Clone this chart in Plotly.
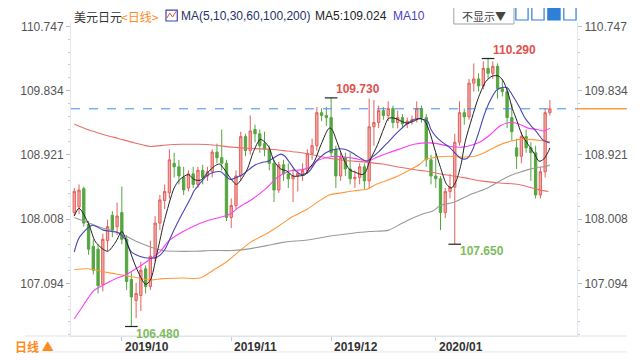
import plotly.graph_objects as go

# ---------------- data ----------------
month_ticks = [10, 33, 54, 76]
month_labels = ["2019/10", "2019/11", "2019/12", "2020/01"]

opens = [108.10,108.18,108.44,107.93,107.62,107.58,107.08,107.70,108.06,107.90,
         108.10,107.72,107.15,106.85,106.92,107.30,107.05,107.45,107.95,108.27,
         108.38,108.80,108.75,108.60,108.45,108.65,108.50,108.70,108.62,108.68,
         108.96,108.88,108.80,108.03,108.20,108.62,109.18,108.98,109.28,109.22,
         109.08,109.00,108.80,108.42,108.78,108.65,108.58,108.62,108.65,108.70,
         108.94,109.05,109.52,109.48,109.45,109.00,108.62,108.88,108.72,108.58,
         108.60,108.75,108.55,109.32,109.38,109.55,109.48,109.58,109.38,109.45,
         109.36,109.40,109.42,109.58,109.45,108.85,108.62,108.58,108.10,108.40,
         108.46,109.10,109.52,109.46,109.94,110.00,109.90,110.15,110.08,110.18,
         109.86,109.82,109.45,109.02,108.90,109.18,109.02,108.95,108.35,108.68,
         109.52]
highs = [108.45,108.50,108.47,107.98,107.72,107.65,107.80,108.00,108.12,108.24,
         108.47,107.78,107.25,107.10,107.40,107.35,107.70,108.05,108.35,108.50,
         109.00,108.95,108.85,108.75,108.70,108.75,108.75,108.78,108.75,109.00,
         109.08,109.28,108.85,108.30,108.70,109.25,109.22,109.48,109.35,109.28,
         109.25,109.05,108.85,108.82,108.85,108.80,108.72,108.70,108.80,109.00,
         109.15,109.60,109.58,109.60,109.73,109.05,108.95,108.95,108.95,108.70,
         108.80,108.80,109.72,109.70,109.62,109.60,109.68,109.62,109.55,109.50,
         109.45,109.48,109.68,109.62,109.50,108.92,108.95,108.62,108.45,108.65,
         109.22,109.68,109.58,110.00,110.22,110.08,110.25,110.29,110.25,110.22,
         110.00,109.88,109.65,109.15,109.25,109.28,109.10,109.05,108.75,109.58,
         109.70]
lows = [108.05,108.08,107.90,107.50,107.22,106.95,106.98,107.55,107.75,107.78,
        107.65,107.00,106.48,106.60,106.70,106.95,107.00,107.40,107.85,108.15,
        108.30,108.60,108.50,108.35,108.40,108.45,108.45,108.50,108.55,108.60,
        108.80,108.70,107.98,107.88,108.15,108.55,108.90,108.92,109.10,108.95,
        108.90,108.70,108.25,108.38,108.55,108.45,108.25,108.40,108.55,108.65,
        108.85,108.98,109.40,109.33,108.90,108.45,108.55,108.62,108.50,108.45,
        108.50,108.43,108.45,109.05,109.30,109.42,109.40,109.30,109.30,109.30,
        109.30,109.35,109.38,109.38,108.75,108.50,108.45,107.85,108.02,108.30,
        107.65,109.05,109.35,109.42,109.82,109.82,109.85,110.00,110.00,109.72,
        109.75,109.30,109.12,108.72,108.80,108.95,108.55,108.30,108.30,108.60,
        109.48]
closes = [108.40,108.42,107.95,107.58,107.28,107.06,107.72,107.90,107.85,108.05,
          107.72,107.12,106.90,106.95,107.28,107.05,107.48,107.95,108.28,108.40,
          108.85,108.75,108.62,108.42,108.65,108.50,108.70,108.60,108.68,108.96,
          108.88,108.80,108.03,108.20,108.62,109.18,108.98,109.26,109.22,109.05,
          109.00,108.80,108.42,108.78,108.65,108.58,108.62,108.66,108.70,108.94,
          109.05,109.52,109.48,109.45,108.95,108.62,108.88,108.72,108.58,108.60,
          108.75,108.55,109.32,109.38,109.55,109.48,109.58,109.38,109.45,109.36,
          109.40,109.42,109.58,109.45,108.85,108.62,108.58,108.10,108.40,108.46,
          109.10,109.52,109.46,109.94,110.00,109.90,110.15,110.08,110.18,109.86,
          109.82,109.45,109.25,108.90,109.18,109.02,108.95,108.35,108.68,109.52,
          109.575]

# moving-average lines (candle index, value)
ma5_idx = [0,1,3,4.5,7,8.7,10,11.4,13,15,16,17.3,18.6,19,21,22.2,24,25.2,26.5,28.2,29.5,30.5,31.5,32.5,34.1,35.1,36.4,37.7,39.1,40.1,41,42,43.4,44.7,46,47.3,48.6,49,50.5,51.9,53.6,54.2,55.2,56.5,57.9,59.2,60.5,61.2,62.1,63.8,65.1,66.1,67.4,68.7,70.1,71.4,72.7,73.7,74.7,75.7,77,78.3,79.3,80.3,81.3,82.2,83.6,84.9,86.5,87.9,89.2,90.1,91.1,92.1,93.1,94.1,95.4,96.8,97.7,98.7,99.7,100]
ma5_val = [108.05,108.16,107.94,107.68,107.55,107.68,107.83,107.61,107.32,107.08,107.14,107.49,107.89,108.0,108.45,108.57,108.64,108.57,108.56,108.68,108.76,108.79,108.72,108.62,108.50,108.57,108.72,108.97,109.14,109.10,109.02,108.83,108.72,108.69,108.62,108.62,108.64,108.69,108.83,109.07,109.30,109.28,109.11,108.88,108.71,108.67,108.64,108.67,108.83,109.07,109.30,109.44,109.44,109.40,109.37,109.40,109.44,109.40,109.25,109.02,108.74,108.50,108.45,108.55,108.78,109.11,109.44,109.72,109.96,110.04,110.04,109.98,109.82,109.58,109.40,109.21,109.07,108.93,108.83,108.86,108.97,109.02]

ma10_idx = [0,1.1,3.8,6.1,9.4,10.7,12,13.7,16,17.3,18.9,20.6,21.9,24.5,25.2,26.5,27.8,29.2,30.8,31.8,32.8,34.1,35.4,36.7,38.1,39.4,40.7,42,43.4,44.3,45.3,46.6,48,49.3,50.9,52.9,54.9,56.9,58.9,60.5,61.5,62.5,64.1,66.1,68.1,70.1,71.7,73,74.3,75,76.3,77.6,79,80.3,81.3,82.6,83.6,84.9,86.2,87.5,88.8,90.1,91.1,92.1,93.5,94.8,96.1,97.4,98.4,99.1,100]
ma10_val = [107.54,107.75,107.92,107.85,107.81,107.72,107.54,107.48,107.45,107.46,107.56,107.80,107.98,108.31,108.41,108.52,108.62,108.67,108.68,108.62,108.57,108.60,108.64,108.71,108.78,108.81,108.83,108.88,108.93,108.90,108.81,108.69,108.64,108.68,108.83,108.95,109.00,109.00,108.93,108.86,108.83,108.88,108.97,109.11,109.25,109.37,109.43,109.43,109.40,109.28,109.16,109.09,109.02,108.93,108.87,108.87,108.97,109.21,109.49,109.70,109.84,109.88,109.87,109.77,109.61,109.44,109.33,109.23,109.14,109.11,109.09]

ma30_idx = [0,1.5,4.1,6.1,8.7,10.7,13.4,16,18,19.9,22.6,25.2,27.8,30.5,32.8,34.5,37.4,40.1,42.7,45.3,48,49.9,50.9,52.9,54.9,56.9,58.9,60.8,62.1,63.4,66.1,68.7,71.4,74.7,76.3,79,81.6,83.6,85.5,87.5,89.5,91.5,93.5,95.4,97.4,98.7,100]
ma30_val = [106.59,106.74,106.99,107.07,107.16,107.21,107.32,107.44,107.54,107.70,107.82,107.91,107.98,108.03,108.08,108.17,108.29,108.43,108.60,108.69,108.71,108.76,108.83,108.88,108.90,108.89,108.87,108.84,108.84,108.88,108.95,109.01,109.07,109.09,109.08,109.04,109.03,109.06,109.11,109.21,109.33,109.38,109.36,109.30,109.28,109.26,109.30]

ma60_idx = [0,2.8,6.8,9.4,12.7,16,18.6,22.6,26.5,29.2,31.8,34.5,37.1,40.4,43,45.6,49,51.6,53.6,56.2,58.9,61.5,63.4,65.4,67.4,70.1,72.7,73.7,76.3,79,81.6,84.2,86.2,88.2,90.1,92.1,93.5,95.4,97.4,99.4,100]
ma60_val = [107.29,107.30,107.25,107.22,107.18,107.14,107.16,107.17,107.17,107.28,107.39,107.54,107.68,107.80,107.91,108.03,108.15,108.27,108.35,108.38,108.41,108.43,108.50,108.55,108.60,108.69,108.79,108.85,108.89,108.90,108.89,108.90,108.95,109.02,109.08,109.12,109.14,109.14,109.13,109.11,109.11]

ma100_idx = [0,2.8,5.4,8.1,10.7,13.4,16,18.6,21.3,25.2,29.2,33.1,36.4,40.4,44.3,49,54.2,58.9,62.1,66.1,68.7,71.4,73.7,75.3,77,80,83.4,86.9,89.5,91.5,93.5,95.4,97.4,99.4,100]
ma100_val = [108.03,107.96,107.89,107.84,107.77,107.68,107.61,107.56,107.55,107.55,107.56,107.56,107.58,107.63,107.68,107.71,107.77,107.81,107.83,107.85,107.94,108.03,108.09,108.12,108.20,108.25,108.36,108.45,108.55,108.62,108.67,108.71,108.74,108.76,108.78]

ma200_idx = [0,2.8,6.1,9.4,12.7,16,19.3,22.6,25.9,29.2,33.1,37.4,41.4,44,46.6,49.5,52.9,56.9,60.8,64.8,68.7,72.7,74.7,77.6,81.6,85.5,89.5,93.5,97.4,99.7]
ma200_val = [109.36,109.28,109.21,109.15,109.09,109.04,109.06,109.07,109.07,109.06,109.03,109.01,109.00,108.98,108.96,108.93,108.88,108.84,108.82,108.79,108.74,108.70,108.68,108.64,108.60,108.55,108.52,108.50,108.43,108.40]

y_ticks = [107.094, 108.008, 108.921, 109.834, 110.747]
y_ticktext = ["107.094", "108.008", "108.921", "109.834", "110.747"]

ma5_label = "MA5:109.024"
high_idx, high_val = 87, 110.290
high2_idx, high2_val = 54, 109.730
low_idx, low_val = 12, 106.480
low2_idx, low2_val = 80, 107.650
last_price = closes[-1]

# ---------------- layout helpers (page pixel -> paper) ----------------
OFF = 8                      # default body margin of the html page
W, H = 640 - OFF, 360 - OFF
ML, MR, MT, MB = 49 - OFF, 53, 20 - OFF, 24
PW, PH = W - ML - MR, H - MT - MB
def px(x):
    return (x - OFF - ML) / PW
def py(y):
    return (H - MB - (y - OFF)) / PH

FONT = "Arial, Liberation Sans, Noto Sans CJK SC, sans-serif"
CJK = "Noto Sans CJK SC, sans-serif"
UP_LINE, UP_FILL = "#e3605c", "#f2aaa7"
DN_LINE = "#55a640"

fig = go.Figure()
fig.add_trace(go.Candlestick(
    x=list(range(len(closes))), open=opens, high=highs, low=lows, close=closes,
    increasing=dict(line=dict(color=UP_LINE, width=1), fillcolor=UP_FILL),
    decreasing=dict(line=dict(color=DN_LINE, width=1), fillcolor=DN_LINE),
    whiskerwidth=0, showlegend=False, hoverinfo="skip"))

for idx, val, col, wd in [(ma200_idx, ma200_val, "#e8706b", 1.1),
                          (ma100_idx, ma100_val, "#9a9a9a", 1.1),
                          (ma60_idx, ma60_val, "#ff9a3c", 1.1),
                          (ma30_idx, ma30_val, "#ff3df5", 1.1),
                          (ma10_idx, ma10_val, "#4646b4", 1.1),
                          (ma5_idx, ma5_val, "#222222", 1.0)]:
    fig.add_trace(go.Scatter(x=idx, y=val, mode="lines",
                             line=dict(color=col, width=wd, shape="spline", smoothing=0.8),
                             showlegend=False, hoverinfo="skip"))

for xi, yv in [(high_idx, high_val), (high2_idx, high2_val), (low_idx, low_val), (low2_idx, low2_val)]:
    fig.add_trace(go.Scatter(x=[xi], y=[yv], mode="markers",
                             marker=dict(symbol="line-ew", size=9, line=dict(color="#222", width=1.2)),
                             showlegend=False, hoverinfo="skip"))

fig.add_trace(go.Scatter(x=[0], y=[last_price], yaxis="y2", mode="markers",
                         marker=dict(opacity=0), showlegend=False, hoverinfo="skip"))

YR = [106.345, 110.809]
XR = [-0.69, 105.7]
minor = dict(tick0=107.094, dtick=0.182666, ticks="outside", ticklen=2, tickcolor="#c8ced6")

fig.update_layout(
    width=W, height=H, margin=dict(l=ML, r=MR, t=MT, b=MB),
    paper_bgcolor="white", plot_bgcolor="white",
    font=dict(family=FONT, size=12, color="#555"),
    xaxis=dict(range=XR, showgrid=False, zeroline=False, rangeslider=dict(visible=False),
               tickvals=month_ticks, ticktext=[""] * len(month_ticks),
               ticks="outside", ticklen=4, tickcolor="#c8ced6",
               showline=True, linecolor="#dfe3ea", linewidth=1),
    yaxis=dict(range=YR, showgrid=False, zeroline=False,
               tickvals=y_ticks, ticktext=y_ticktext, ticks="outside", ticklen=4,
               tickcolor="#b8bec8", showline=True, linecolor="#e3e7ee",
               tickfont=dict(size=12, color="#555"), minor=minor),
    yaxis2=dict(range=YR, overlaying="y", side="right", showgrid=False, zeroline=False,
                tickvals=y_ticks, ticktext=y_ticktext, ticks="outside", ticklen=4,
                tickcolor="#b8bec8", showline=True, linecolor="#e3e7ee",
                tickfont=dict(size=12, color="#555"), minor=minor),
)

shapes = []
shapes.append(dict(type="line", xref="paper", yref="y", x0=0, x1=1, y0=last_price, y1=last_price,
                   line=dict(color="#3d8ef0", width=1, dash="dash")))
shapes.append(dict(type="line", xref="paper", yref="y", x0=1, x1=px(640), y0=last_price, y1=last_price,
                   line=dict(color="#ff9a3c", width=1.5)))
shapes.append(dict(type="line", xref="paper", yref="paper", x0=px(0), x1=px(640), y0=py(336), y1=py(336),
                   line=dict(color="#dfe3ea", width=1)))
shapes.append(dict(type="line", xref="paper", yref="paper", x0=px(0), x1=px(640), y0=py(352), y1=py(352),
                   line=dict(color="#e6e9ef", width=1)))
shapes.append(dict(type="rect", xref="paper", yref="paper", x0=px(456), x1=px(520), y0=py(22), y1=py(3),
                   line=dict(color="#9aa3ad", width=1), fillcolor="rgba(0,0,0,0)", layer="below"))
for x0, filled in [(522, False), (539, False), (556, True), (573, False)]:
    shapes.append(dict(type="rect", xref="paper", yref="paper", x0=px(x0), x1=px(x0 + 13), y0=py(18), y1=py(5),
                       line=dict(color="#2f7fd6", width=1.2), fillcolor="#2f7fd6" if filled else "white"))
shapes.append(dict(type="rect", xref="paper", yref="paper", x0=px(150), x1=px(162), y0=py(19), y1=py(8),
                   line=dict(color="#3a46a8", width=1.2), fillcolor="white"))
shapes.append(dict(type="path", xref="paper", yref="paper",
                   path=f"M {px(151)} {py(16)} L {px(154)} {py(11)} L {px(157)} {py(15)} L {px(161)} {py(9)}",
                   line=dict(color="#e0524f", width=1)))
fig.update_layout(shapes=shapes)

ann = []
def text(x, y, s, color, size=12, bold=False, anchor="left", family=FONT):
    ann.append(dict(xref="paper", yref="paper", x=px(x), y=py(y), text=f"<b>{s}</b>" if bold else s,
                    showarrow=False, xanchor=anchor, yanchor="middle",
                    font=dict(color=color, size=size, family=family)))

text(50, 14, "美元日元", "#333333", 12, family=CJK)
text(100, 14, "&lt;日线&gt;", "#ff8a1e", 12, family=CJK)
text(164, 14, "MA(5,10,30,60,100,200)", "#27306a", 12)
text(306, 14, ma5_label, "#222222", 12)
text(389, 14, "MA10", "#4a3fc4", 12)
text(488, 14, "不显示▼", "#444444", 11, anchor="center", family=CJK)
text(33, 347, "日线 ▲", "#ff8a1e", 12, bold=True, anchor="right", family=CJK)
for t, lab in zip(month_ticks, month_labels):
    ann.append(dict(xref="x", yref="paper", x=t, y=py(347), text=f"<b>{lab}</b>", showarrow=False,
                    xanchor="left", yanchor="middle", xshift=1,
                    font=dict(color="#333", size=12, family=FONT)))

for xi, yv, col, up in [(high_idx, high_val, "#e0524f", True), (high2_idx, high2_val, "#e0524f", True),
                        (low_idx, low_val, "#7cbc5c", False), (low2_idx, low2_val, "#7cbc5c", False)]:
    ann.append(dict(xref="x", yref="y", x=xi, y=yv, text=f"<b>{yv:.3f}</b>", showarrow=False,
                    xanchor="left", yanchor="bottom" if up else "top", xshift=3,
                    yshift=0 if up else 2,
                    font=dict(color=col, size=12, family=FONT)))
fig.update_layout(annotations=ann)

fig.write_html("out.html")
